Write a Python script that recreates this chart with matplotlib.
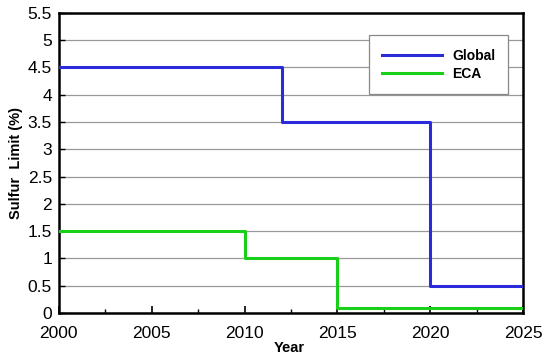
import matplotlib
matplotlib.use("Agg")
import matplotlib.pyplot as plt
from matplotlib.ticker import MultipleLocator

plt.rcParams['font.family'] = ['Liberation Sans', 'DejaVu Sans']

# step data (value holds until next year)
global_years = [2000, 2012, 2020, 2025]
global_limit = [4.5, 3.5, 0.5, 0.5]
eca_years = [2000, 2010, 2015, 2025]
eca_limit = [1.5, 1.0, 0.1, 0.1]
yticks = [0, 0.5, 1, 1.5, 2, 2.5, 3, 3.5, 4, 4.5, 5, 5.5]
ytick_labels = ['0', '0.5', '1', '1.5', '2', '2.5', '3', '3.5', '4', '4.5', '5', '5.5']

fig = plt.figure(figsize=(5.5, 3.59), dpi=100)
ax = fig.add_axes([0.107, 0.128, 0.844, 0.836])

ax.step(global_years, global_limit, where='post', color='#2b2bdc', lw=2.2, label='Global', zorder=3)
ax.step(eca_years, eca_limit, where='post', color='#18d018', lw=2.2, label='ECA', zorder=3)

ax.set_xlim(2000, 2025)
ax.set_ylim(0, 5.5)
ax.xaxis.set_major_locator(MultipleLocator(5))
ax.xaxis.set_minor_locator(MultipleLocator(2.5))
ax.set_yticks(yticks)
ax.set_yticklabels(ytick_labels)
ax.grid(axis='y', color='#999999', lw=0.9)
ax.tick_params(axis='both', which='both', direction='in', labelsize=12.5, color='black')
ax.tick_params(axis='x', which='major', length=5, width=1.2, pad=9)
ax.tick_params(axis='x', which='minor', length=3, width=1)
ax.tick_params(axis='y', which='major', length=4, width=1, pad=5)

for s in ax.spines.values():
    s.set_linewidth(1.8)

ax.set_xlabel('Year', fontsize=10.5, fontweight='bold')
ax.xaxis.set_label_coords(0.497, -0.093)
ax.set_ylabel('Sulfur  Limit (%)', fontsize=10.5, fontweight='bold')
ax.yaxis.set_label_coords(-0.078, 0.5)

leg = ax.legend(loc='upper right', bbox_to_anchor=(0.968, 0.925),
                prop={'weight': 'bold', 'size': 10},
                fancybox=False, edgecolor='#888888', framealpha=1, handlelength=4.3,
                borderpad=0.95, labelspacing=0.3, handletextpad=0.72, borderaxespad=0)
leg.get_frame().set_linewidth(0.9)

fig.savefig('out.png', dpi=100)
